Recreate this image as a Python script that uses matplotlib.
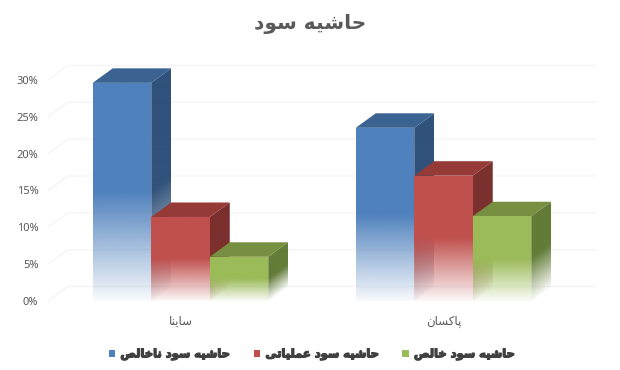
import numpy as np
import matplotlib
matplotlib.use('Agg')
import matplotlib.pyplot as plt
import matplotlib.patheffects as pe
from matplotlib.patches import Patch, Polygon

title = 'حاشیه سود'
categories = ['ساینا', 'پاکسان']
series = ['حاشیه سود ناخالص', 'حاشیه سود عملیاتی', 'حاشیه سود خالص']
gross = [29.6, 23.5]
operating = [11.4, 17.0]
net = [6.0, 11.5]
yticks = [0, 5, 10, 15, 20, 25, 30]

front_cols = ['#4F81BD', '#C0504D', '#9BBB59']
top_cols = ['#3A6391', '#953A37', '#778F40']
side_cols = ['#31527A', '#7B302E', '#637C38']

# matplotlib does not shape arabic, so map to presentation forms by hand
# isolated, final, initial, medial
forms = {
    'ا': (0xFE8D, 0xFE8E), 'د': (0xFEA9, 0xFEAA), 'و': (0xFEED, 0xFEEE),
    'پ': (0xFB56, 0xFB57, 0xFB58, 0xFB59), 'ت': (0xFE95, 0xFE96, 0xFE97, 0xFE98),
    'ح': (0xFEA1, 0xFEA2, 0xFEA3, 0xFEA4), 'خ': (0xFEA5, 0xFEA6, 0xFEA7, 0xFEA8),
    'س': (0xFEB1, 0xFEB2, 0xFEB3, 0xFEB4), 'ش': (0xFEB5, 0xFEB6, 0xFEB7, 0xFEB8),
    'ص': (0xFEB9, 0xFEBA, 0xFEBB, 0xFEBC), 'ع': (0xFEC9, 0xFECA, 0xFECB, 0xFECC),
    'ک': (0xFB8E, 0xFB8F, 0xFB90, 0xFB91), 'ل': (0xFEDD, 0xFEDE, 0xFEDF, 0xFEE0),
    'م': (0xFEE1, 0xFEE2, 0xFEE3, 0xFEE4), 'ن': (0xFEE5, 0xFEE6, 0xFEE7, 0xFEE8),
    'ه': (0xFEE9, 0xFEEA, 0xFEEB, 0xFEEC), 'ی': (0xFBFC, 0xFBFD, 0xFBFE, 0xFBFF),
}


def shape(text):
    out = []
    for i, c in enumerate(text):
        if c not in forms:
            out.append(c)
            continue
        prev = text[i - 1] if i > 0 else ' '
        nxt = text[i + 1] if i < len(text) - 1 else ' '
        p = prev in forms and len(forms[prev]) == 4
        n = nxt in forms and len(forms[c]) == 4
        if p and n:
            k = 3
        elif p:
            k = 1
        elif n:
            k = 2
        else:
            k = 0
        out.append(chr(forms[c][k]))
    return ''.join(out[::-1])


W, H = 620, 370
px_x = 263.0  # pixels per category
px_y = 7.37   # pixels per percent
bar_w = 58.5 / px_x
depth_x = 20.0 / px_x
depth_y = 14.5 / px_y

fig = plt.figure(figsize=(W / 100, H / 100), dpi=100)
left, right, top, bottom = 48, 595, 50, 301
ax = fig.add_axes([left / W, (H - bottom) / H, (right - left) / W, (bottom - top) / H])
xlim = (-(180.5 - left) / px_x, 1 + (right - 443.5) / px_x)
ylim = (0, (bottom - top) / px_y)
grid_col = '#F5F5F5'

for v in yticks:
    ax.plot([xlim[0], xlim[0] + depth_x, xlim[1]], [v, v + depth_y, v + depth_y],
            color=grid_col, lw=1.0, zorder=1, clip_on=False)


def gradient_face(poly, color, height, x_start=None, z=2):
    # fades out over the lower half of the bar, side faces follow the depth skew
    poly = np.array(poly)
    xs = np.linspace(poly[:, 0].min(), poly[:, 0].max(), 40)
    ys = np.linspace(poly[:, 1].min(), poly[:, 1].max(), 400)
    X, Y = np.meshgrid(xs, ys)
    h = Y.copy()
    if x_start is not None:
        h = Y - (X - x_start) / depth_x * depth_y
    a = np.clip(0.04 + 0.96 * h / (0.5 * height), 0.04, 1)
    img = np.ones(X.shape + (4,))
    img[..., :3] = matplotlib.colors.to_rgb(color)
    img[..., 3] = a
    im = ax.imshow(img, origin='lower', aspect='auto', zorder=z, interpolation='bilinear',
                   extent=(xs[0], xs[-1], ys[0], ys[-1]))
    im.set_clip_path(Polygon(poly, closed=True, transform=ax.transData))


z = 2
for c, vals in enumerate(zip(gross, operating, net)):
    for s, v in enumerate(vals):
        x0 = c - 1.5 * bar_w + s * bar_w
        x1 = x0 + bar_w
        gradient_face([(x1, 0), (x1 + depth_x, depth_y), (x1 + depth_x, v + depth_y), (x1, v)],
                      side_cols[s], v, x_start=x1, z=z)
        ax.fill([x0, x1, x1 + depth_x, x0 + depth_x], [v, v, v + depth_y, v + depth_y],
                color=top_cols[s], lw=0, zorder=z)
        gradient_face([(x0, 0), (x1, 0), (x1, v), (x0, v)], front_cols[s], v, z=z + 1)
        z += 2

ax.set_xlim(xlim)
ax.set_ylim(ylim)
ax.set_yticks(yticks)
ax.set_yticklabels([f'{v}%' for v in yticks], family='Noto Sans', fontsize=8, color='#595959')
ax.set_xticks([0, 1])
ax.set_xticklabels([shape(c) for c in categories], family='DejaVu Sans', fontsize=8.5, color='#595959')
ax.tick_params(axis='y', length=0, pad=7)
ax.tick_params(axis='x', length=0, pad=10)
for sp in ax.spines.values():
    sp.set_visible(False)
ax.patch.set_alpha(0)

fig.text(310 / W, 1 - 24 / H, shape(title), ha='center', va='center', fontsize=14.5,
         fontweight='bold', family='DejaVu Sans', color='#595959')

handles = [Patch(facecolor=col, edgecolor='none') for col in front_cols]
leg = fig.legend(handles, [shape(s) for s in series], ncol=3, frameon=False,
                 loc='center', bbox_to_anchor=(312 / W, 1 - 354 / H),
                 prop={'family': 'DejaVu Sans', 'weight': 'bold', 'size': 8.3},
                 handlelength=0.55, handleheight=0.6, handletextpad=0.45, columnspacing=2.05)
for t in leg.get_texts():
    t.set_color('#404040')
    t.set_path_effects([pe.withStroke(linewidth=0.9, foreground='#404040')])

fig.savefig('out.png', dpi=100)
